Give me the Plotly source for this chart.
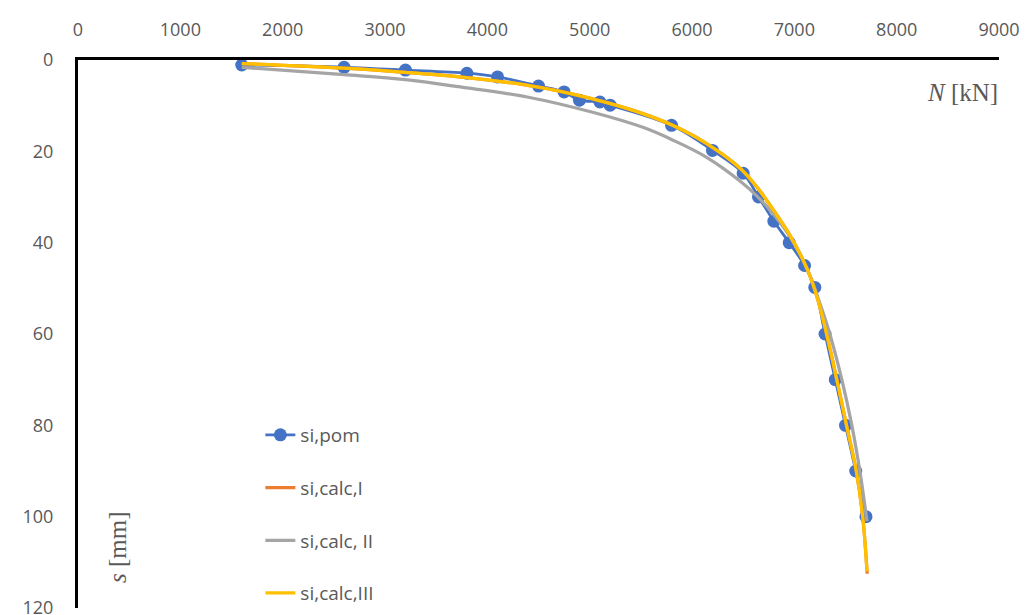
import plotly.graph_objects as go

# measured data
N_pom = [1600, 2600, 3200, 3800, 4100, 4500, 4750, 4900, 5100, 5200, 5800, 6200, 6500, 6650, 6800, 6950, 7100, 7200, 7300, 7400, 7500, 7600, 7700]
s_pom = [1.1, 1.6, 2.2, 2.9, 3.7, 5.7, 7.0, 8.8, 9.2, 9.9, 14.3, 19.8, 24.8, 30, 35.3, 40, 45, 49.8, 60, 70, 80, 90, 100]

# calculated curves
N_calc1 = [1600, 2600, 3200, 3727, 4383, 4804, 5195, 5527, 5810, 6143, 6475, 6640, 6800, 6960, 7130, 7230, 7315, 7415, 7510, 7605, 7668, 7712]
s_calc1 = [0.8, 1.8, 2.7, 3.7, 5.5, 7.3, 9.5, 11.8, 14.3, 18.3, 23.8, 28, 33, 38.5, 46, 52.5, 60, 70, 80, 90, 100, 112.5]

N_calc2 = [1600, 2600, 3200, 3736, 4389, 5038, 5527, 5810, 6143, 6475, 6640, 6800, 6960, 7130, 7230, 7347, 7464, 7562, 7640, 7710]
s_calc2 = [1.6, 3.2, 4.3, 5.9, 8.1, 11.5, 14.8, 17.5, 21.3, 26.6, 29.9, 33.9, 38.8, 46, 52, 60, 70, 80, 90, 101]

N_calc3 = [1600, 2600, 3200, 3727, 4383, 4804, 5195, 5527, 5810, 6143, 6475, 6640, 6800, 6960, 7130, 7230, 7315, 7415, 7510, 7605, 7668, 7710]
s_calc3 = [0.8, 1.8, 2.7, 3.7, 5.5, 7.3, 9.5, 11.8, 14.3, 18.3, 23.8, 28, 33, 38.5, 46, 52.5, 60, 70, 80, 90, 100, 112]

x_ticks = list(range(0, 9001, 1000))
y_ticks = list(range(0, 121, 20))

fig = go.Figure()
fig.add_trace(go.Scatter(x=N_pom, y=s_pom, name="si,pom", mode="lines+markers",
                         line=dict(color="#4472C4", width=2.75, shape="spline", smoothing=1.0),
                         marker=dict(color="#4472C4", size=13), legendgroup="a"))
fig.add_trace(go.Scatter(x=N_calc1, y=s_calc1, name="si,calc,I", mode="lines",
                         line=dict(color="#ED7D31", width=3.25, shape="spline"), legendgroup="b"))
fig.add_trace(go.Scatter(x=N_calc2, y=s_calc2, name="si,calc, II", mode="lines",
                         line=dict(color="#A5A5A5", width=3.25, shape="spline"), legendgroup="c"))
fig.add_trace(go.Scatter(x=N_calc3, y=s_calc3, name="si,calc,III", mode="lines",
                         line=dict(color="#FFC000", width=3.25, shape="spline"), legendgroup="d"))

L, R, T, B = 78, 29, 60, 7
pw = 1028 - L - R
ph = 615 - T - B

tickfont = dict(family="Open Sans", size=18, color="#595959")
fig.update_layout(
    width=1028, height=615,
    margin=dict(l=L, r=R, t=T, b=B, autoexpand=False),
    paper_bgcolor="white", plot_bgcolor="white",
    showlegend=True,
    legend=dict(x=0.198, y=1 - (416 - T) / ph, xanchor="left", yanchor="top",
                font=dict(family="Open Sans", size=19, color="#595959"),
                traceorder="grouped", tracegroupgap=25, bgcolor="rgba(0,0,0,0)"),
    xaxis=dict(side="top", range=[0, 9000], tickvals=x_ticks, ticks="", showgrid=False,
               zeroline=False, showline=True, linecolor="black", linewidth=3,
               tickfont=tickfont, ticklabelstandoff=14, automargin=False,
               ticklabeloverflow="allow"),
    yaxis=dict(range=[120, 0], tickvals=y_ticks, ticks="", showgrid=False,
               zeroline=False, showline=True, linecolor="black", linewidth=3,
               tickfont=tickfont, ticklabelstandoff=18, automargin=False,
               ticklabeloverflow="allow"),
    annotations=[
        dict(text="<i>N</i> [kN]", xref="paper", yref="paper",
             x=(962 - L) / pw, y=1 - (92 - T) / ph, xanchor="center", yanchor="middle",
             showarrow=False,
             font=dict(family="Liberation Serif", size=25, color="#595959")),
        dict(text="<i>s</i> [mm]", xref="paper", yref="paper",
             x=(117 - L) / pw, y=1 - (547 - T) / ph, xanchor="center", yanchor="middle",
             showarrow=False, textangle=-90,
             font=dict(family="Liberation Serif", size=25, color="#595959")),
    ],
)

fig.write_html("out.html")
